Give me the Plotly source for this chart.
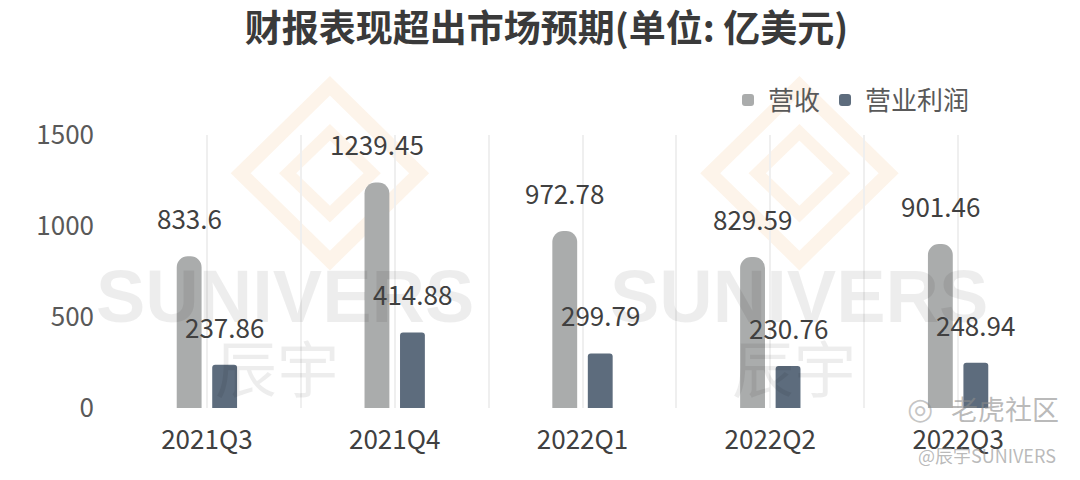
import plotly.graph_objects as go

categories = ["2021Q3", "2021Q4", "2022Q1", "2022Q2", "2022Q3"]
revenue = [833.6, 1239.45, 972.78, 829.59, 901.46]
op_profit = [237.86, 414.88, 299.79, 230.76, 248.94]
series_names = ["营收", "营业利润"]
y_ticks = [0, 500, 1000, 1500]
title_text = "财报表现超出市场预期(单位: 亿美元)"

FONT = "Noto Sans CJK SC"
REV_COLOR = "#aaacac"
PROF_COLOR = "#5d6c7d"
BARGAP = 0.622

xs = list(range(len(categories)))

fig = go.Figure()
fig.add_trace(go.Bar(x=xs, y=revenue, name=series_names[0],
                     marker=dict(color=REV_COLOR, cornerradius=11, line=dict(width=0))))
fig.add_trace(go.Bar(x=xs, y=op_profit, name=series_names[1],
                     marker=dict(color=PROF_COLOR, cornerradius=3, line=dict(width=0))))

annos = []

# watermarks (drawn first, underneath labels)
wm_gray = "rgba(0,0,0,0.07)"
for cx in (0.183, 0.731):
    annos.append(dict(x=cx, y=0.41, xref="paper", yref="paper", text="<b>SUNIVERS</b>",
                      showarrow=False, xanchor="center", yanchor="middle",
                      font=dict(family="Liberation Sans", size=74, color=wm_gray)))
for cx in (0.175, 0.725):
    annos.append(dict(x=cx, y=0.155, xref="paper", yref="paper", text="辰宇",
                      showarrow=False, xanchor="center", yanchor="middle",
                      font=dict(family=FONT, size=62, color=wm_gray)))
annos.append(dict(x=0.843, y=0.0, xref="paper", yref="paper", text="◎",
                  showarrow=False, xanchor="left", yanchor="middle",
                  font=dict(family="DejaVu Sans", size=30, color="rgba(140,140,140,0.5)")))
annos.append(dict(x=0.89, y=0.0, xref="paper", yref="paper", text="老虎社区",
                  showarrow=False, xanchor="left", yanchor="middle",
                  font=dict(family=FONT, size=27, color="rgba(140,140,140,0.6)")))
annos.append(dict(x=0.855, y=-0.173, xref="paper", yref="paper", text="@辰宇SUNIVERS",
                  showarrow=False, xanchor="left", yanchor="middle",
                  font=dict(family=FONT, size=18, color="rgba(140,140,140,0.6)")))

# value labels
off = (1 - BARGAP) / 4
for i, (r, p) in enumerate(zip(revenue, op_profit)):
    for xv, val in ((i - off, r), (i + off, p)):
        annos.append(dict(x=xv, y=val, xref="x", yref="y", text=f"{val:g}",
                          showarrow=False, xanchor="center", yanchor="bottom", yshift=18,
                          font=dict(family=FONT, size=26, color="#404040")))

shapes = []
logo_col = "rgba(245,200,150,0.2)"
for cx in (0.231, 0.731):
    cy = 0.86
    dx, dy = 0.095, 0.32
    shapes.append(dict(type="path", xref="paper", yref="paper",
                       path=f"M {cx-dx},{cy} L {cx},{cy+dy} L {cx+dx},{cy} L {cx},{cy-dy} Z",
                       line=dict(color=logo_col, width=14), fillcolor="rgba(0,0,0,0)", layer="below"))
    dx2, dy2 = 0.045, 0.15
    shapes.append(dict(type="path", xref="paper", yref="paper",
                       path=f"M {cx-dx2},{cy} L {cx},{cy+dy2} L {cx+dx2},{cy} L {cx},{cy-dy2} Z",
                       line=dict(color=logo_col, width=12), fillcolor="rgba(0,0,0,0)", layer="below"))

fig.update_layout(
    width=1080, height=480, autosize=False,
    margin=dict(l=113, r=28, t=135, b=72),
    paper_bgcolor="white", plot_bgcolor="white",
    barmode="group", bargap=BARGAP, bargroupgap=0.3,
    font=dict(family=FONT, color="#404040"),
    title=dict(text=title_text, x=0.506, xref="container", y=0.94, yref="container",
               xanchor="center", yanchor="middle",
               font=dict(family=FONT, size=37, color="#3a3a3a", weight="bold")),
    legend=dict(orientation="h", x=0.918, xanchor="right", y=1.128, yanchor="middle",
                font=dict(family=FONT, size=26, color="#595959"),
                bgcolor="rgba(0,0,0,0)", itemclick=False, traceorder="normal"),
    xaxis=dict(range=[-0.5, 4.5], tickmode="array", tickvals=xs, ticktext=categories,
               showgrid=True, gridcolor="#efefef", gridwidth=1.5, zeroline=False, showline=False,
               ticks="", ticklabelstandoff=14,
               tickfont=dict(family=FONT, size=26, color="#404040"),
               minor=dict(tickmode="array", tickvals=[v - 0.5 for v in xs] + [xs[-1] + 0.5],
                          showgrid=True, gridcolor="#efefef", gridwidth=1.5, ticks="")),
    yaxis=dict(range=[0, 1500], tickmode="array", tickvals=y_ticks,
               showgrid=False, zeroline=False, showline=False, ticks="",
               ticklabelstandoff=18,
               tickfont=dict(family=FONT, size=26, color="#595959")),
    annotations=annos,
    shapes=shapes,
    hovermode=False,
)

fig.write_html("out.html", config={"displayModeBar": False},
               post_script="document.body.style.margin='0';")
